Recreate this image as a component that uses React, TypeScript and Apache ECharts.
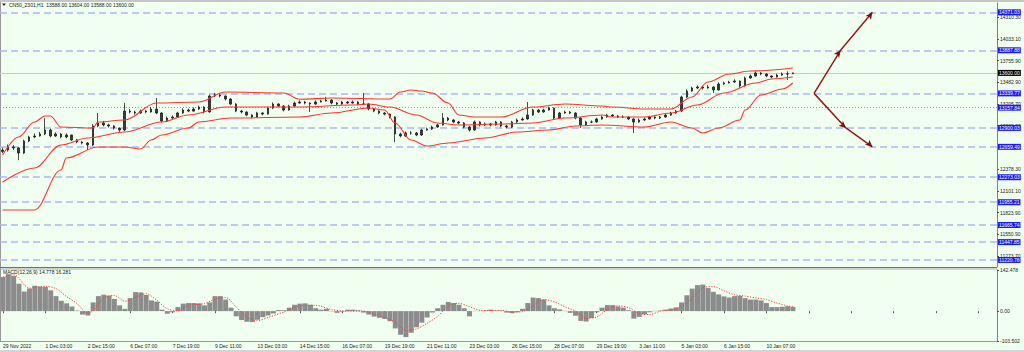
import React, { useEffect, useRef } from "react";
import * as echarts from "echarts";

const timeLabels = [
  "29 Nov 2022", "1 Dec 03:00", "2 Dec 15:00", "6 Dec 07:00", "7 Dec 19:00", "9 Dec 11:00",
  "13 Dec 03:00", "14 Dec 15:00", "16 Dec 07:00", "19 Dec 19:00", "21 Dec 11:00", "23 Dec 03:00",
  "26 Dec 15:00", "28 Dec 07:00", "29 Dec 19:00", "3 Jan 11:00", "5 Jan 03:00", "6 Jan 15:00", "10 Jan 07:00",
];

const firstOpen = 12600;
const closes = [
  12619, 12658, 12645, 12581, 12734, 12785, 12798, 12823, 12874, 12798,
  12823, 12785, 12810, 12747, 12721, 12709, 12683, 12925, 12963, 12938,
  12925, 12899, 12874, 13115, 13103, 13090, 13115, 13103, 13141, 13090,
  12989, 13026, 13039, 13090, 13128, 13115, 13141, 13166, 13103, 13306,
  13319, 13306, 13268, 13204, 13115, 13103, 13064, 13039, 13090, 13077,
  13153, 13204, 13179, 13128, 13179, 13217, 13230, 13217, 13204, 13230,
  13242, 13255, 13217, 13204, 13230, 13217, 13230, 13204, 13204, 13141,
  13115, 13090, 13077, 13039, 12823, 12798, 12836, 12836, 12810, 12874,
  12887, 12912, 12938, 13026, 13001, 12976, 12963, 12912, 12874, 12976,
  12938, 12950, 12938, 12976, 12925, 12912, 12976, 13001, 13014, 13064,
  13128, 13103, 13128, 13153, 13026, 13090, 13103, 13090, 13026, 12938,
  12976, 12976, 13014, 13039, 13064, 13052, 13039, 13039, 13014, 12976,
  13001, 13014, 13039, 13026, 13039, 13064, 13090, 13115, 13293, 13370,
  13408, 13421, 13408, 13421, 13383, 13459, 13472, 13484, 13497, 13434,
  13535, 13561, 13599, 13586, 13561, 13548, 13573, 13586, 13588, 13600,
];
const highs = [
  12650, 12690, 12680, 12660, 12750, 12800, 12830, 12850, 13026, 12890,
  12845, 12835, 12830, 12815, 12760, 12735, 12720, 12950, 13090, 12990,
  12955, 12935, 12905, 13217, 13140, 13120, 13135, 13130, 13165, 13281,
  13100, 13045, 13060, 13105, 13150, 13145, 13160, 13185, 13175, 13325,
  13345, 13335, 13315, 13280, 13215, 13130, 13110, 13075, 13105, 13100,
  13170, 13225, 13215, 13190, 13195, 13235, 13250, 13245, 13225, 13250,
  13260, 13295, 13265, 13230, 13245, 13240, 13250, 13240, 13344, 13215,
  13150, 13125, 13100, 13085, 13050, 12840, 12855, 12860, 12850, 12890,
  12905, 12930, 12955, 13090, 13040, 13010, 12990, 12975, 12925, 12995,
  12985, 12970, 12965, 12990, 12985, 12940, 12990, 13020, 13035, 13230,
  13145, 13140, 13145, 13170, 13160, 13105, 13120, 13115, 13100, 13035,
  12990, 12995, 13030, 13055, 13080, 13075, 13065, 13060, 13050, 13025,
  13020, 13030, 13055, 13050, 13055, 13080, 13105, 13130, 13310, 13390,
  13425, 13440, 13435, 13445, 13430, 13480, 13490, 13500, 13520, 13505,
  13555, 13580, 13620, 13610, 13595, 13570, 13590, 13605, 13620, 13604,
];
const lows = [
  12580, 12600, 12620, 12490, 12570, 12720, 12770, 12790, 12810, 12780,
  12785, 12770, 12770, 12735, 12705, 12690, 12619, 12670, 12910, 12920,
  12905, 12880, 12850, 12860, 13085, 13070, 13080, 13085, 13095, 13075,
  12970, 12975, 13015, 13030, 13080, 13100, 13105, 13130, 13085, 13095,
  13295, 13290, 13250, 13190, 13100, 13085, 13050, 13020, 13030, 13060,
  13070, 13140, 13165, 13110, 13120, 13170, 13210, 13200, 13103, 13195,
  13225, 13235, 13200, 13190, 13195, 13205, 13210, 13190, 13190, 13125,
  13100, 13075, 13060, 13020, 12721, 12780, 12785, 12815, 12795, 12800,
  12865, 12875, 12900, 12930, 12985, 12960, 12945, 12895, 12855, 12865,
  12920, 12925, 12920, 12930, 12910, 12895, 12900, 12965, 12995, 13005,
  13055, 13090, 13095, 13120, 13010, 13015, 13080, 13075, 13010, 12900,
  12925, 12960, 12965, 13005, 13030, 13040, 13025, 13025, 13000, 12836,
  12965, 12990, 13005, 13010, 13015, 13030, 13055, 13080, 13105, 13280,
  13360, 13395, 13390, 13400, 13344, 13375, 13450, 13465, 13475, 13410,
  13425, 13525, 13550, 13570, 13545, 13530, 13540, 13565, 13510, 13588,
];

const bbUpper = [
  [0, 12556], [3, 12785], [6, 12976], [8, 13052], [9, 13052], [11, 12912], [17, 12899], [18, 12976],
  [23, 13001], [29, 13217], [37, 13230], [42, 13357], [53, 13345], [56, 13265], [62, 13281], [73, 13268],
  [75, 13357], [77, 13383], [79, 13370], [81, 13345], [84, 13217], [86, 13065], [89, 13039], [94, 13039],
  [100, 13166], [106, 13205], [113, 13179], [115, 13166], [121, 13141], [126, 13141], [130, 13294],
  [133, 13484], [137, 13586], [141, 13624], [149, 13662],
];
const bbMid = [
  [0, 12212], [6, 12391], [11, 12683], [16, 12772], [23, 12848], [30, 12976], [35, 13065], [42, 13166],
  [56, 13166], [66, 13192], [69, 13205], [73, 13166], [78, 13065], [82, 12963], [86, 12938], [94, 12950],
  [100, 12963], [106, 13026], [113, 13065], [115, 13040], [121, 13039], [126, 13090], [131, 13192],
  [136, 13345], [142, 13472], [145, 13523], [149, 13548],
];
const bbLower = [
  [0, 11856], [6, 11856], [11, 12365], [12, 12518], [18, 12658], [23, 12658], [26, 12632], [28, 12747],
  [30, 12810], [35, 12899], [37, 12976], [43, 13026], [56, 13039], [62, 13090], [69, 13154], [72, 13128],
  [74, 12963], [77, 12747], [80, 12670], [84, 12709], [91, 12772], [97, 12848], [103, 12874], [108, 12925],
  [113, 12937], [121, 12912], [126, 12976], [130, 12899], [132, 12836], [135, 12899], [139, 13001],
  [140, 13128], [143, 13319], [147, 13395], [149, 13472],
];

const macdHist = [
  118, 128, 122, 95, 68, 78, 88, 85, 84, 72,
  52, 36, 27, 16, 2, -12, -15, 30, 52, 57,
  54, 42, 20, 8, 45, 66, 65, 56, 37, 33,
  5, -9, -4, 14, 26, 28, 28, 27, 20, 30,
  52, 52, 40, 12, -18, -31, -37, -38, -30, -21,
  -15, -8, 4, 3, 12, 22, 26, 27, 22, 10,
  5, 8, -1, -6, -2, 5, 5, 3, -5, -12,
  -19, -23, -27, -35, -60, -82, -90, -75, -56, -40,
  -22, -5, 10, 22, 32, 28, 22, 10, -18, 1,
  1, 2, 5, 2, 2, -5, -7, -4, 8, 28,
  47, 45, 40, 20, 10, 6, 1, -6, -16, -34,
  -36, -24, -4, 12, 21, 21, 16, 12, 3, -26,
  -20, -11, -4, 1, 2, 5, 9, 13, 30, 55,
  78, 90, 92, 80, 67, 58, 51, 47, 52, 53,
  45, 40, 40, 37, 28, 14, 14, 15, 17, 14.778,
];
const macdSignal = [
  [0, 118], [2, 126], [5, 80], [8, 86], [10, 78], [12, 50], [14, 26], [16, -8], [17, 2], [19, 45],
  [21, 54], [23, 34], [25, 48], [27, 60], [29, 38], [31, 8], [33, 2], [35, 20], [38, 26], [40, 42],
  [42, 47], [44, 14], [46, -20], [48, -33], [50, -22], [53, -3], [56, 18], [59, 20], [62, 5], [65, 0],
  [68, 0], [71, -16], [74, -39], [76, -68], [78, -62], [80, -42], [82, -18], [84, 18], [86, 27],
  [88, 15], [90, 3], [92, 2], [94, 3], [96, -3], [98, -2], [100, 20], [102, 40], [104, 32], [106, 15],
  [108, 0], [110, -25], [112, -20], [114, 5], [116, 18], [118, 12], [120, -8], [122, -12], [124, 0],
  [126, 5], [128, 15], [130, 45], [132, 80], [134, 85], [136, 70], [138, 57], [140, 52], [142, 46],
  [144, 40], [146, 28], [148, 18], [149, 16.281],
];

const priceTicks = [14310.3, 14033.1, 13755.9, 13482.9, 13205.7, 12928.5, 12378.3, 12101.1, 11823.9, 11550.9, 11273.7];
const dashedLevels = [14371.03, 13887.88, 13339.77, 12900.03, 12659.49, 12273.03, 11955.21, 11665.74, 11447.85, 11220.78];
const dottedLevel = 13157.84;
const lastPrice = 13600.0;
const projUp = [[152.8, 13339.77], [158.3, 13887.88], [163.6, 14371.03]];
const projDown = [[152.8, 13339.77], [159.4, 12900.03], [163.6, 12659.49]];
const macdTicks = [142.478, 0, -103.502];

const TOTAL_CATS = 188;
const FONT = "Liberation Sans";

export default function App() {
  const ref = useRef<HTMLDivElement>(null);
  useEffect(() => {
    if (!ref.current) return;
    const chart = echarts.init(ref.current, undefined, { renderer: "svg" });
    const cats = Array.from({ length: TOTAL_CATS }, (_, i) => String(i));
    const opens = closes.map((c, i) => (i === 0 ? firstOpen : closes[i - 1]));
    const candles = closes.map((c, i) => [opens[i], c, lows[i], highs[i]]);

    const blueLabel = {
      show: true,
      position: "end",
      distance: 1,
      formatter: (p: any) => Number(p.value).toFixed(2),
      color: "#ffffff",
      backgroundColor: "#1a1aff",
      fontSize: 5,
      fontFamily: FONT,
      padding: [1, 1, 0, 1],
    };
    const markData: any[] = dashedLevels.map((v) => ({
      yAxis: v,
      lineStyle: { color: "#aab8f2", width: 1.5, type: [7, 4] },
      label: blueLabel,
    }));
    markData.push({
      yAxis: dottedLevel,
      lineStyle: { color: "#7d8cff", width: 1, type: [1, 2] },
      label: blueLabel,
    });
    markData.push({
      yAxis: lastPrice,
      lineStyle: { color: "#c4ccc4", width: 1, type: "solid" },
      label: { ...blueLabel, backgroundColor: "#000000" },
    });

    const projColor = "#961c1c";
    const projSeries = (pts: number[][], rot: number) => ({
      type: "line",
      xAxisIndex: 0,
      yAxisIndex: 0,
      showSymbol: true,
      showAllSymbol: true,
      data: pts.map((p, i) => ({
        value: p,
        symbol: i === 0 ? "none" : "arrow",
        symbolSize: [5, 7],
        symbolRotate: rot,
      })),
      lineStyle: { color: projColor, width: 1.5 },
      itemStyle: { color: "#7a0f0f" },
      z: 5,
      silent: true,
    });

    chart.setOption({
      animation: false,
      backgroundColor: "#f0fff0",
      textStyle: { fontFamily: FONT },
      graphic: [
        { type: "rect", shape: { x: 0, y: 0, width: 1024, height: 2 }, style: { fill: "#c6c6c6" }, silent: true },
        { type: "rect", shape: { x: 0, y: 350, width: 1024, height: 2 }, style: { fill: "#d4d4d4" }, silent: true },
        { type: "line", shape: { x1: 0.5, y1: 2, x2: 0.5, y2: 342 }, style: { stroke: "#9a9a9a", lineWidth: 1 }, silent: true },
        { type: "line", shape: { x1: 0, y1: 267.5, x2: 997, y2: 267.5 }, style: { stroke: "#6f6f6f", lineWidth: 1 }, silent: true },
        { type: "line", shape: { x1: 0, y1: 269, x2: 997, y2: 269 }, style: { stroke: "#a9a9a9", lineWidth: 1 }, silent: true },
        { type: "line", shape: { x1: 0, y1: 341.5, x2: 997, y2: 341.5 }, style: { stroke: "#9a9a9a", lineWidth: 1 }, silent: true },
        { type: "polygon", shape: { points: [[2, 3.5], [6, 3.5], [4, 6]] }, style: { fill: "#222" }, silent: true },
        {
          type: "text", x: 9, y: 2.8,
          style: { text: "CN50_2301,H1  13588.00 13604.00 13588.00 13600.00", fontSize: 5, fontFamily: FONT, fill: "#222" },
          silent: true,
        },
        {
          type: "text", x: 3, y: 269.5,
          style: { text: "MACD(12,26,9) 14.778 16.281", fontSize: 5, fontFamily: FONT, fill: "#222" },
          silent: true,
        },
      ],
      grid: [
        { left: 0, top: 3, width: 997, height: 264 },
        { left: 0, top: 270, width: 997, height: 71 },
      ],
      xAxis: [
        {
          type: "category", gridIndex: 0, data: cats, boundaryGap: true,
          axisLine: { show: false }, axisTick: { show: false }, axisLabel: { show: false }, splitLine: { show: false },
        },
        {
          type: "category", gridIndex: 1, data: cats, boundaryGap: true,
          axisLine: { show: false },
          axisTick: { show: true, interval: 7, length: 2, alignWithLabel: true, lineStyle: { color: "#555" } },
          axisLabel: {
            interval: 7, fontSize: 5, fontFamily: FONT, color: "#222", align: "left", margin: 2.5,
            formatter: (_v: string, idx: number) => (idx % 8 === 0 && idx / 8 < timeLabels.length ? timeLabels[idx / 8] : ""),
          },
          splitLine: { show: false },
        },
      ],
      yAxis: [
        {
          type: "value", gridIndex: 0, position: "right", min: 11131.3, max: 14489.4,
          axisLine: { show: true, lineStyle: { color: "#808080" } },
          axisTick: { show: true, customValues: priceTicks, length: 2, inside: false, lineStyle: { color: "#555" } },
          axisLabel: {
            customValues: priceTicks, fontSize: 5, fontFamily: FONT, color: "#222", margin: 3,
            formatter: (v: number) => v.toFixed(2),
          },
          splitLine: { show: false },
        },
        {
          type: "value", gridIndex: 1, position: "right", min: -103.502, max: 142.478,
          axisLine: { show: true, lineStyle: { color: "#808080" } },
          axisTick: { show: true, customValues: macdTicks, length: 2, lineStyle: { color: "#555" } },
          axisLabel: {
            customValues: macdTicks, fontSize: 5, fontFamily: FONT, color: "#222", margin: 3,
            formatter: (v: number) => (v === 0 ? "0.00" : v.toFixed(3)),
          },
          splitLine: { show: false },
        },
      ],
      series: [
        {
          type: "candlestick", xAxisIndex: 0, yAxisIndex: 0, data: candles, barWidth: 2,
          itemStyle: { color: "#3a3a3a", color0: "#3a3a3a", borderColor: "#1e1e1e", borderColor0: "#1e1e1e", borderWidth: 0.8 },
          z: 3,
          markLine: { silent: true, symbol: ["none", "none"], animation: false, data: markData, z: 1 },
        },
        ...[bbUpper, bbMid, bbLower].map((d) => ({
          type: "line", xAxisIndex: 0, yAxisIndex: 0, data: d, symbol: "none",
          smooth: 0.35, smoothMonotone: "x",
          lineStyle: { color: "#ff3232", width: 1.1 }, z: 4, silent: true,
        })),
        projSeries(projUp, -36),
        projSeries(projDown, -132),
        {
          type: "bar", xAxisIndex: 1, yAxisIndex: 1, data: macdHist, barWidth: 5,
          itemStyle: { color: "#8c8c8c" }, silent: true,
        },
        {
          type: "line", xAxisIndex: 1, yAxisIndex: 1, data: macdSignal, symbol: "none", smooth: 0.3,
          lineStyle: { color: "#ff3b3b", width: 1, type: [1.2, 1.5] }, z: 4, silent: true,
        },
      ],
    });
    return () => chart.dispose();
  }, []);
  return <div ref={ref} style={{ position: "absolute", left: 0, top: 0, width: 1024, height: 352 }} />;
}
